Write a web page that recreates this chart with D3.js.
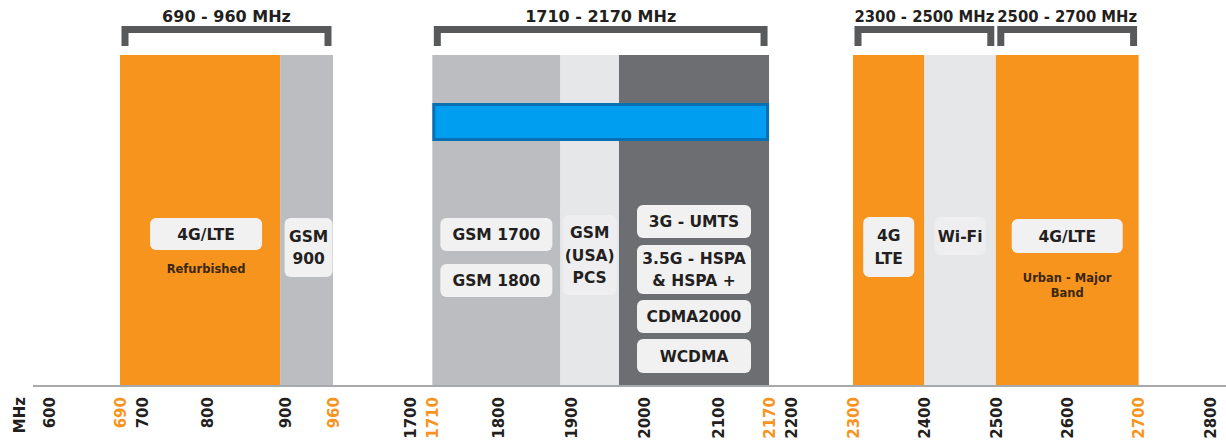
<!DOCTYPE html>
<html>
<head>
<meta charset="utf-8">
<script src="https://cdn.jsdelivr.net/npm/d3@7/dist/d3.min.js"></script>
<style>
    body { margin: 0; background: #fff; }
    svg { display: block; font-family: "DejaVu Sans", sans-serif; font-weight: bold; }
</style>
</head>
<body>
<svg width="1226" height="440"></svg>
<script>
// Frequency bands (MHz)

const segmentDomains = [[600, 960], [1700, 2200], [2300, 2800]];
const tickValues = [600, 690, 700, 800, 900, 960, 1700, 1710, 1800, 1900, 2000, 2100, 2170, 2200,
    2300, 2400, 2500, 2600, 2700, 2800];
const edgeTicks = [690, 960, 1710, 2170, 2300, 2700];

const bandStart = [690, 893, 1710, 1885, 1965, 2300, 2400, 2500];
const bandEnd = [893, 960, 1885, 1965, 2170, 2400, 2500, 2700];
const bandKind = ["lte", "gsm", "gsm", "pcs", "umts", "lte", "wifi", "lte"];
const bandTags = [
    [["4G/LTE"]],
    [["GSM", "900"]],
    [["GSM 1700"], ["GSM 1800"]],
    [["GSM", "(USA)", "PCS"]],
    [["3G - UMTS"], ["3.5G - HSPA", "& HSPA +"], ["CDMA2000"], ["WCDMA"]],
    [["4G", "LTE"]],
    [["Wi-Fi"]],
    [["4G/LTE"]]
];
const bandNotes = [["Refurbished"], [], [], [], [], [], [], ["Urban - Major", "Band"]];

const rangeStart = [690, 1710, 2300, 2500];
const rangeEnd = [960, 2170, 2500, 2700];
const rangeTitles = ["690 - 960 MHz", "1710 - 2170 MHz", "2300 - 2500 MHz", "2500 - 2700 MHz"];

const overlayStart = 1710;
const overlayEnd = 2170;

// layout
const axisY = 386;
const bandTop = 55;
const segmentRanges = [[49, 333], [425, 791], [853, 1210]];
const colors = { lte: "#f7941d", gsm: "#bcbdc0", pcs: "#e6e7e8", umts: "#6d6e71", wifi: "#e6e7e8" };
const faintBoxes = { pcs: "#eeeef0", wifi: "#eeeef0" };

// box layout per band: [top, bottom, width] for each tag box, plus x shift
const boxLayout = [
    { dx: 6, boxes: [[218, 250, 112]], notes: 269 },
    { dx: 2, boxes: [[218, 277, 48]] },
    { dx: 0, boxes: [[218, 251, 112], [264, 297, 112]] },
    { dx: 0, boxes: [[215, 295, 54]] },
    { dx: 0, boxes: [[205, 238, 114], [245, 294, 114], [300, 333, 114], [339, 373, 114]] },
    { dx: 0, boxes: [[217, 277, 51]] },
    { dx: 0, boxes: [[217, 255, 51]] },
    { dx: 0, boxes: [[219, 253, 111]], notes: 278 }
];

const scales = segmentDomains.map((d, i) => d3.scaleLinear().domain(d).range(segmentRanges[i]));
function x(v) {
    const i = segmentDomains.findIndex(d => v >= d[0] && v <= d[1]);
    return scales[i](v);
}

const svg = d3.select("svg");

// bands
svg.append("g")
    .selectAll("rect")
    .data(bandStart)
    .join("rect")
    .attr("x", (d, i) => x(d))
    .attr("y", bandTop)
    .attr("width", (d, i) => x(bandEnd[i]) - x(d))
    .attr("height", axisY - bandTop)
    .attr("fill", (d, i) => colors[bandKind[i]]);

// blue overlay
svg.append("rect")
    .attr("x", x(overlayStart) + 1.5)
    .attr("y", 104.5)
    .attr("width", x(overlayEnd) - x(overlayStart) - 3)
    .attr("height", 35)
    .attr("fill", "#009ef0")
    .attr("stroke", "#0b6fb3")
    .attr("stroke-width", 3);

// brackets
const brackets = svg.append("g");
brackets.selectAll("path")
    .data(rangeStart)
    .join("path")
    .attr("d", (d, i) => {
        const x0 = x(d) + 1.5 + 3.5, x1 = x(rangeEnd[i]) - 1.5 - 3.5;
        return `M${x0},46 V29.5 H${x1} V46`;
    })
    .attr("fill", "none")
    .attr("stroke", "#58595b")
    .attr("stroke-width", 7);

brackets.selectAll("text")
    .data(rangeTitles)
    .join("text")
    .attr("x", (d, i) => (x(rangeStart[i]) + x(rangeEnd[i])) / 2)
    .attr("y", 22)
    .attr("text-anchor", "middle")
    .attr("fill", "#231f20")
    .style("font-size", "16px")
    .text(d => d)
    .each(function(d, i) {
        // squeeze titles that are wider than their bracket
        const room = x(rangeEnd[i]) - x(rangeStart[i]) - 3;
        if (this.getComputedTextLength() > room) {
            d3.select(this).attr("textLength", room).attr("lengthAdjust", "spacingAndGlyphs");
        }
    });

// tag boxes
bandTags.forEach((tags, i) => {
    const lay = boxLayout[i];
    const cx = (x(bandStart[i]) + x(bandEnd[i])) / 2 + lay.dx;
    const g = svg.append("g");
    tags.forEach((lines, j) => {
        const [top, bottom, w] = lay.boxes[j];
        g.append("rect")
            .attr("x", cx - w / 2)
            .attr("y", top)
            .attr("width", w)
            .attr("height", bottom - top)
            .attr("rx", 6)
            .attr("fill", faintBoxes[bandKind[i]] || "#f1f1f2");
        const mid = (top + bottom) / 2;
        const lh = 22.5;
        g.selectAll(null)
            .data(lines)
            .join("text")
            .attr("x", cx)
            .attr("y", (d, k) => mid + (k - (lines.length - 1) / 2) * lh)
            .attr("dy", "0.36em")
            .attr("text-anchor", "middle")
            .attr("fill", "#231f20")
            .style("font-size", "15.5px")
            .text(d => d);
    });
    g.selectAll(null)
        .data(bandNotes[i])
        .join("text")
        .attr("x", cx)
        .attr("y", (d, k) => lay.notes + k * 15)
        .attr("dy", "0.36em")
        .attr("text-anchor", "middle")
        .attr("fill", "#3a2712")
        .style("font-size", "11.5px")
        .text(d => d);
});

// axis line
svg.append("line")
    .attr("x1", 33)
    .attr("x2", 1226)
    .attr("y1", axisY)
    .attr("y2", axisY)
    .attr("stroke", "#a7a9ac")
    .attr("stroke-width", 2);

// axes, one per segment
scales.forEach((s, i) => {
    const ticks = tickValues.filter(v => v >= segmentDomains[i][0] && v <= segmentDomains[i][1]);
    const axis = svg.append("g")
        .attr("transform", `translate(0,${axisY})`)
        .call(d3.axisBottom(s).tickValues(ticks).tickSize(0).tickFormat(d3.format("d")));
    axis.select(".domain").remove();
    axis.selectAll(".tick").each(function(v) {
        // push ordinary ticks away from band-edge ticks so labels do not collide
        let shift = 0;
        if (!edgeTicks.includes(v)) {
            edgeTicks.forEach(e => {
                const gap = s(v) - (segmentDomains[i][0] <= e && e <= segmentDomains[i][1] ? s(e) : -1e9);
                if (Math.abs(gap) < 22) shift = (gap >= 0 ? 22 : -22) - gap;
            });
        }
        d3.select(this).select("text")
            .attr("transform", `translate(${shift},0) rotate(-90)`)
            .attr("x", -11)
            .attr("y", 0)
            .attr("dy", "0.35em")
            .attr("text-anchor", "end")
            .attr("fill", edgeTicks.includes(v) ? "#f7941d" : "#231f20")
            .style("font-family", "'DejaVu Sans', sans-serif")
            .style("font-weight", "bold")
            .style("font-size", "15px");
    });
});

svg.append("text")
    .attr("transform", `translate(20,397) rotate(-90)`)
    .attr("dy", "0.35em")
    .attr("text-anchor", "end")
    .attr("fill", "#231f20")
    .style("font-size", "15px")
    .text("MHz");
</script>
</body>
</html>
